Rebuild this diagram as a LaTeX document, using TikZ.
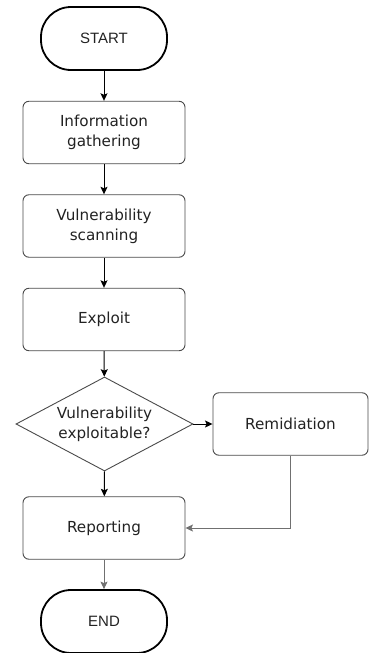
\documentclass[tikz,border=0pt]{standalone}
\usepackage{fontspec}
\setmainfont{DejaVu Sans}
\newfontfamily\termfont{Liberation Sans}
\usetikzlibrary{shapes.geometric,arrows.meta}

\definecolor{edge}{HTML}{4A4A4A}
\definecolor{ink}{HTML}{222222}
\definecolor{soft}{HTML}{707070}

\tikzset{
  terminal/.style={draw=black, line width=1.8pt, rectangle, rounded corners=30pt,
    minimum width=126pt, minimum height=63pt, inner sep=0pt,
    text=ink, font=\termfont\fontsize{15}{18}\selectfont},
  procbox/.style={draw=edge, line width=0.9pt, rectangle, rounded corners=6pt,
    minimum width=162pt, minimum height=62.5pt, inner sep=0pt, align=center,
    text=ink, font=\fontsize{15.2}{20}\selectfont},
  decision/.style={draw=edge, line width=0.9pt, diamond, aspect=1.88, inner sep=-2pt,
    minimum width=177pt, minimum height=94pt, align=center,
    text=ink, font=\fontsize{15.2}{20}\selectfont},
  flow/.style={draw=black, line width=1pt, -{Stealth[length=7.5pt,width=7pt,inset=1.5pt]}},
}

\begin{document}
\begin{tikzpicture}[x=1pt,y=-1pt]
  \useasboundingbox (0,0) rectangle (369,653);

  \node[terminal] (start) at (104,38.5) {START};
  \node[procbox] (info) at (104,132.5) {Information\\gathering};
  \node[procbox] (scan) at (104,226) {Vulnerability\\scanning};
  \node[procbox] (exploit) at (104,319.5) {Exploit};
  \node[decision] (check) at (104.5,424) {Vulnerability\\exploitable?};
  \node[procbox, minimum width=155pt] (fix) at (290.5,424) {Remidiation};
  \node[procbox] (report) at (104,528) {Reporting};
  \node[terminal] (stop) at (104,621.5) {END};

  \draw[flow] (start) -- (info);
  \draw[flow] (info) -- (scan);
  \draw[flow] (scan) -- (exploit);
  \draw[flow] (exploit) -- (check);
  \draw[flow] (check.east) -- (fix.west);
  \draw[flow] (check.south) -- (report);
  \draw[flow, draw=soft] (fix.south) |- (report.east);
  \draw[flow, draw=soft] (report) -- (stop);
\end{tikzpicture}
\end{document}
